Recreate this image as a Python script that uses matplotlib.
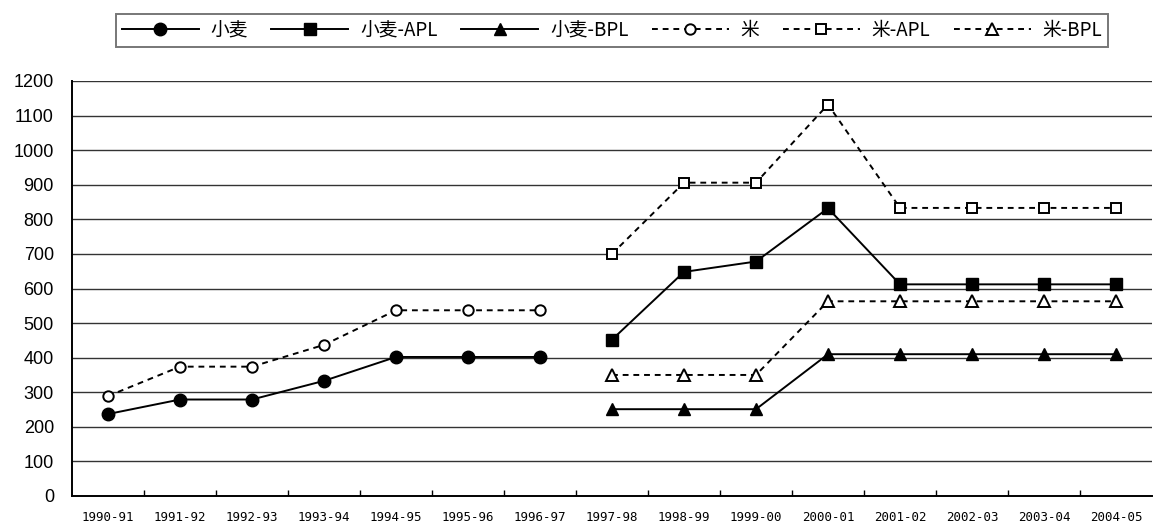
import numpy as np
import matplotlib
matplotlib.use("Agg")
import matplotlib.pyplot as plt

# ==========================
# DATA
# ==========================

years = [
    "1990-91", "1991-92", "1992-93", "1993-94", "1994-95",
    "1995-96", "1996-97", "1997-98", "1998-99", "1999-00",
    "2000-01", "2001-02", "2002-03", "2003-04", "2004-05",
]

nan = np.nan

wheat = [237, 279, 279, 333, 402, 402, 402, nan, nan, nan, nan, nan, nan, nan, nan]
wheat_apl = [nan, nan, nan, nan, nan, nan, nan, 452, 648, 678, 832, 612, 612, 612, 612]
wheat_bpl = [nan, nan, nan, nan, nan, nan, nan, 251, 251, 251, 410, 410, 410, 410, 410]
rice = [289, 374, 374, 437, 537, 537, 537, nan, nan, nan, nan, nan, nan, nan, nan]
rice_apl = [nan, nan, nan, nan, nan, nan, nan, 700, 906, 906, 1132, 833, 833, 833, 833]
rice_bpl = [nan, nan, nan, nan, nan, nan, nan, 350, 350, 350, 563, 563, 563, 563, 563]

labels = ["小麦", "小麦-APL", "小麦-BPL", "米", "米-APL", "米-BPL"]

# ==========================
# FIGURE
# ==========================

fig = plt.figure(figsize=(11.56, 5.27), dpi=100)
ax = fig.add_axes([72 / 1156, 1 - 496 / 527, 1080 / 1156, 415 / 527])

x = np.arange(len(years))
dash = (0, (3, 2.5))

ax.plot(x, wheat, color="black", lw=1.4, marker="o", ms=9,
        mfc="black", mec="black", label=labels[0])
ax.plot(x, wheat_apl, color="black", lw=1.4, marker="s", ms=8.5,
        mfc="black", mec="black", label=labels[1])
ax.plot(x, wheat_bpl, color="black", lw=1.4, marker="^", ms=9,
        mfc="black", mec="black", label=labels[2])
ax.plot(x, rice, color="black", lw=1.4, ls=dash, marker="o", ms=7.5,
        mfc="white", mec="black", mew=1.4, label=labels[3])
ax.plot(x, rice_apl, color="black", lw=1.4, ls=dash, marker="s", ms=7.5,
        mfc="white", mec="black", mew=1.4, label=labels[4])
ax.plot(x, rice_bpl, color="black", lw=1.4, ls=dash, marker="^", ms=8,
        mfc="white", mec="black", mew=1.4, label=labels[5])

# ==========================
# AXES
# ==========================

ax.set_xlim(-0.5, len(years) - 0.5)
ax.set_ylim(0, 1200)
ax.set_yticks(range(0, 1300, 100))
ax.set_yticklabels([str(v) for v in range(0, 1300, 100)],
                   fontsize=13, family="Liberation Sans")
ax.tick_params(axis="y", length=0, pad=13)

ax.set_xticks(x)
ax.set_xticklabels(years, fontsize=9, family="DejaVu Sans Mono")
ax.tick_params(axis="x", which="major", length=0, pad=11)
ax.set_xticks(np.arange(0.5, len(years) - 0.5, 1), minor=True)
ax.tick_params(axis="x", which="minor", direction="in", length=4, width=1)

for v in range(100, 1300, 100):
    ax.axhline(v, color="#333333", lw=1, zorder=0)

ax.spines["top"].set_visible(False)
ax.spines["right"].set_visible(False)
ax.spines["left"].set_linewidth(1.4)
ax.spines["bottom"].set_linewidth(1.4)

leg = fig.legend(
    loc="upper center",
    bbox_to_anchor=(612 / 1156, 1 - 5 / 527),
    ncol=6,
    prop={"family": ["Noto Sans CJK JP", "DejaVu Sans"], "size": 13.5},
    handlelength=4.1,
    handletextpad=0.64,
    columnspacing=1.25,
    fancybox=False,
    borderpad=0.3,
    edgecolor="#555555",
)
leg.get_frame().set_linewidth(1.4)

plt.savefig("out.png", dpi=100)
plt.close()
